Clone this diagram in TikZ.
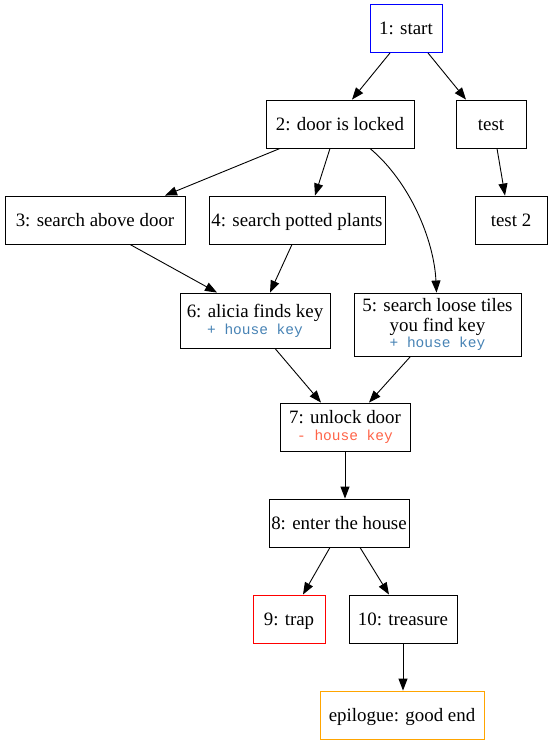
\documentclass[tikz,border=0pt]{standalone}
\usepackage{fontspec}
\setmainfont{Liberation Serif}
\newfontfamily\monofam{Liberation Mono}
\usetikzlibrary{arrows.meta}
\definecolor{steelblue}{HTML}{4682B4}
\definecolor{tomatoc}{HTML}{FF6347}
\definecolor{orangec}{HTML}{FFA500}
\definecolor{redc}{HTML}{FF0000}
\newcommand{\plusitem}[1]{{\monofam\fontsize{14.5}{16}\selectfont\color{steelblue}#1}}
\newcommand{\minusitem}[1]{{\monofam\fontsize{14.5}{16}\selectfont\color{tomatoc}#1}}
\begin{document}
\begin{tikzpicture}[x=1pt,y=-1pt,
  box/.style={draw, rectangle, line width=0.9pt, inner sep=0pt, minimum height=48pt, align=center,
    font=\fontsize{18.9}{19.8}\selectfont},
  onebox/.style={box, text height=13pt, text depth=0.5pt},
  edge/.style={line width=0.9pt, -{Triangle[length=12pt,width=9pt]}}]
\useasboundingbox (0,0) rectangle (552,745);
\node[onebox, draw=blue, minimum width=72pt] (n1) at (406,28.5) {1: start};
\node[onebox, minimum width=148pt] (n2) at (340,124) {2: door is locked};
\node[onebox, minimum width=70pt] (t1) at (491,124) {test};
\node[onebox, minimum width=180pt] (n3) at (95,220) {3: search above door};
\node[onebox, minimum width=176pt] (n4) at (297,220) {4: search potted plants};
\node[onebox, minimum width=72pt] (t2) at (511,220) {test 2};
\node[box, minimum width=150pt, minimum height=55pt] (n6) at (255,320.5) {6: alicia finds key\\[-3pt]\plusitem{+ house key}};
\node[box, minimum width=167pt, minimum height=63pt] (n5) at (437.5,324.5) {5: search loose tiles\\you find key\\[-3pt]\plusitem{+ house key}};
\node[box, minimum width=130pt] (n7) at (345,427) {7: unlock door\\[-3pt]\minusitem{- house key}};
\node[onebox, minimum width=140pt] (n8) at (339,523) {8: enter the house};
\node[onebox, draw=redc, line width=1pt, minimum width=72pt] (n9) at (289,619) {9: trap};
\node[onebox, minimum width=108pt] (n10) at (403,619) {10: treasure};
\node[onebox, draw=orangec, minimum width=164pt] (ep) at (402,715) {epilogue: good end};
\draw[edge] ([xshift=-16pt]n1.south) -- ([xshift=12pt]n2.north);
\draw[edge] ([xshift=22pt]n1.south) -- ([xshift=-25pt]t1.north);
\draw[edge] ([xshift=-60pt]n2.south) -- ([xshift=70pt]n3.north);
\draw[edge] ([xshift=-10pt]n2.south) -- ([xshift=18pt]n4.north);
\draw[edge] ([xshift=30pt]n2.south) .. controls (410,182) and (434,240) .. ([xshift=-1pt]n5.north);
\draw[edge] ([xshift=6pt]t1.south) -- ([xshift=-6pt]t2.north);
\draw[edge] ([xshift=35pt]n3.south) -- ([xshift=-38pt]n6.north);
\draw[edge] ([xshift=-5pt]n4.south) -- ([xshift=15pt]n6.north);
\draw[edge] ([xshift=20pt]n6.south) -- ([xshift=-24pt]n7.north);
\draw[edge] ([xshift=-27pt]n5.south) -- ([xshift=24pt]n7.north);
\draw[edge] (n7.south) -- ([xshift=6pt]n8.north);
\draw[edge] ([xshift=-9pt]n8.south) -- ([xshift=14pt]n9.north);
\draw[edge] ([xshift=21pt]n8.south) -- ([xshift=-14pt]n10.north);
\draw[edge] (n10.south) -- ([xshift=1pt]ep.north);
\end{tikzpicture}
\end{document}
